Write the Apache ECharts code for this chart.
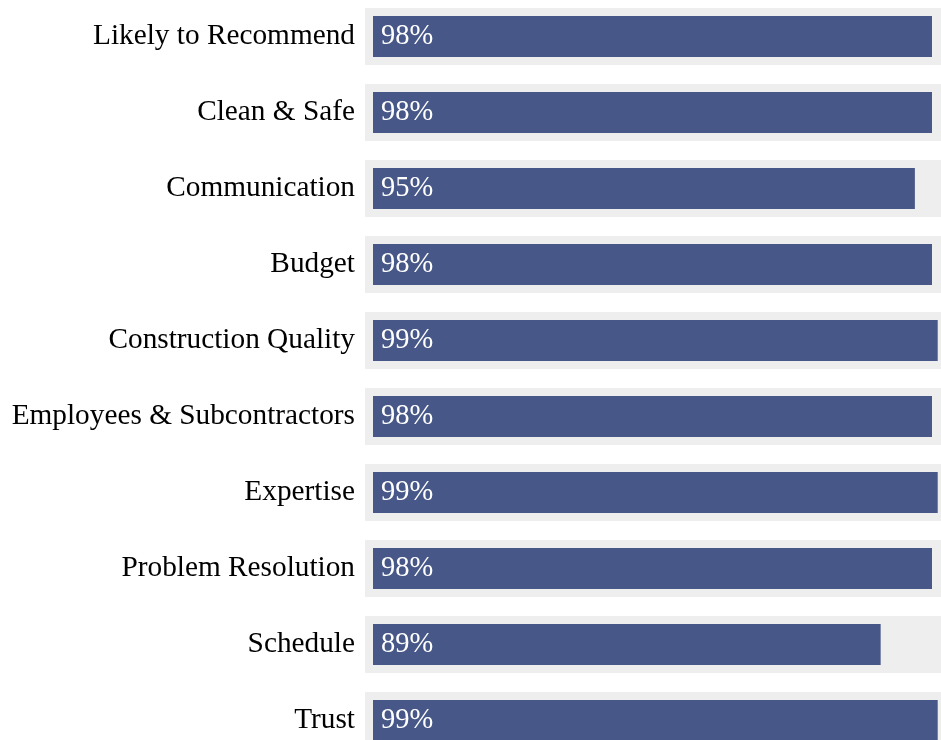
<!DOCTYPE html>
<html>
<head>
<meta charset="utf-8">
<script src="https://cdn.jsdelivr.net/npm/echarts@6/dist/echarts.min.js"></script>
<style>
html,body{margin:0;padding:0;background:#fff;}
#chart{width:941px;height:740px;}
</style>
</head>
<body>
<div id="chart"></div>
<script>
const categories = ["Likely to Recommend","Clean & Safe","Communication","Budget","Construction Quality","Employees & Subcontractors","Expertise","Problem Resolution","Schedule","Trust"];
const values = [98,98,95,98,99,98,99,98,89,99];

const chart = echarts.init(document.getElementById('chart'));
chart.setOption({
  animation: false,
  grid: {left: 373, top: -1.5, width: 570.4, height: 760, containLabel: false, outerBoundsMode: 'none'},
  xAxis: {type: 'value', min: 0, max: 100, show: false, splitLine: {show: false}},
  yAxis: {
    type: 'category', data: categories, inverse: true,
    axisLine: {show: false}, axisTick: {show: false},
    axisLabel: {margin: 18, color: '#000', fontFamily: 'Liberation Serif', fontSize: 29.3}
  },
  series: [{
    type: 'bar', data: values, barWidth: 41,
    itemStyle: {color: '#475787'},
    showBackground: true,
    backgroundStyle: {color: '#eeeeee', borderColor: '#eeeeee', borderWidth: 16},
    label: {show: true, position: 'insideLeft', distance: 8, formatter: '{c}%', color: '#fff', fontFamily: 'Liberation Serif', fontSize: 28.5}
  }]
});
</script>
</body>
</html>
